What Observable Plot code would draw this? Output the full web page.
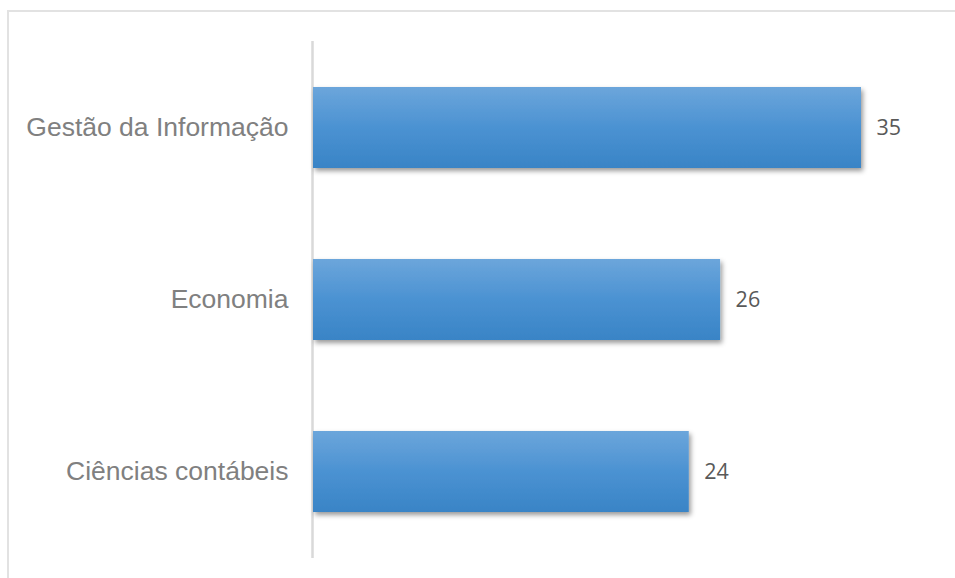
<!DOCTYPE html>
<html><head><meta charset="utf-8">
<script src="https://cdn.jsdelivr.net/npm/d3@7"></script>
<script src="https://cdn.jsdelivr.net/npm/@observablehq/plot@0.6"></script>
<style>
html,body{margin:0;padding:0;background:#fff;overflow:hidden;}
#frame{position:absolute;left:7px;top:10px;width:1000px;height:700px;border:2px solid #e2e2e2;box-sizing:border-box;}
#chart{position:absolute;left:0;top:0;}
#chart svg g[aria-label="y-axis tick label"] text{font-family:"Liberation Sans",Arial,sans-serif !important;font-size:26.5px;fill:#808080;}
</style></head><body>
<div id="frame"></div>
<div id="chart"></div>
<script>
const categories = ["Gestão da Informação", "Economia", "Ciências contábeis"];
const values = [35, 26, 24];
const data = categories.map((c, i) => ({category: c, value: values[i]}));

const plot = Plot.plot({
  width: 955, height: 578,
  marginLeft: 313, marginRight: 94, marginTop: 41, marginBottom: 20,
  style: {background: "transparent", overflow: "visible", fontSize: "26.5px", fontFamily: "Liberation Sans", color: "#808080"},
  x: {domain: [0, d3.max(values)], axis: null},
  y: {domain: categories, paddingInner: 0.53, paddingOuter: 0.265, label: null, tickSize: 0, tickPadding: 25},
  marks: [
    Plot.ruleX([0], {stroke: "#d9d9d9", strokeWidth: 2.5, dx: -1}),
    Plot.barX(data, {y: "category", x: "value", fill: "url(#barGrad)"}),
    Plot.text(data, {y: "category", x: "value", text: d => String(d.value), textAnchor: "start", dx: 15, fill: "#595959", fontSize: 21.5, fontFamily: "Open Sans"})
  ]
});

const svg = d3.select(plot);
svg.insert("defs", ":first-child").html(`
  <linearGradient id="barGrad" x1="0" y1="0" x2="0" y2="1">
    <stop offset="0" stop-color="#6ca6db"/>
    <stop offset="0.5" stop-color="#4b92d2"/>
    <stop offset="1" stop-color="#3984c6"/>
  </linearGradient>
  <filter id="shadow" x="-5%" y="-20%" width="115%" height="150%">
    <feDropShadow dx="2" dy="3" stdDeviation="2.5" flood-color="#000" flood-opacity="0.4"/>
  </filter>`);
svg.selectAll('g[aria-label="bar"] rect').attr("filter", "url(#shadow)");
document.getElementById("chart").appendChild(plot);
</script>
</body></html>
